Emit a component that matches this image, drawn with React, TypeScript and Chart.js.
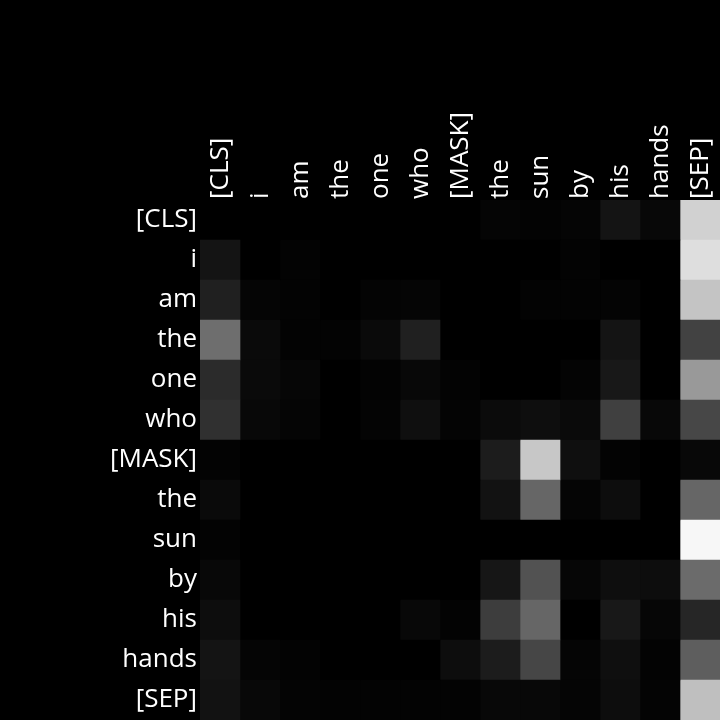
import React, { useEffect, useRef } from "react";
import { Chart, registerables } from "chart.js";

Chart.register(...registerables);

const tokens = ["[CLS]", "i", "am", "the", "one", "who", "[MASK]", "the", "sun", "by", "his", "hands", "[SEP]"];

// attention weights, one array per query token (row), columns follow `tokens`
const rowCLS = [0, 0, 0, 0, 0, 0, 0, 0.02, 0.01, 0.02, 0.08, 0.03, 0.82];
const rowI = [0.08, 0, 0.01, 0, 0, 0, 0, 0, 0, 0.01, 0, 0, 0.87];
const rowAm = [0.125, 0.02, 0.01, 0, 0.015, 0.02, 0, 0, 0.01, 0.01, 0.015, 0, 0.77];
const rowThe1 = [0.43, 0.04, 0.01, 0.01, 0.04, 0.125, 0, 0, 0, 0, 0.08, 0, 0.26];
const rowOne = [0.17, 0.04, 0.025, 0, 0.01, 0.03, 0.01, 0, 0, 0.015, 0.095, 0, 0.6];
const rowWho = [0.19, 0.03, 0.02, 0, 0.015, 0.06, 0.015, 0.045, 0.055, 0.04, 0.25, 0.03, 0.28];
const rowMask = [0.01, 0, 0, 0, 0, 0, 0, 0.11, 0.78, 0.06, 0.01, 0, 0.03];
const rowThe2 = [0.04, 0, 0, 0, 0, 0, 0, 0.07, 0.4, 0.02, 0.05, 0, 0.4];
const rowSun = [0.01, 0, 0, 0, 0, 0, 0, 0, 0, 0, 0, 0, 0.97];
const rowBy = [0.03, 0, 0, 0, 0, 0, 0, 0.085, 0.32, 0.025, 0.055, 0.05, 0.42];
const rowHis = [0.05, 0, 0, 0, 0, 0.03, 0.01, 0.24, 0.4, 0, 0.095, 0.025, 0.15];
const rowHands = [0.08, 0.02, 0.01, 0, 0, 0, 0.05, 0.11, 0.275, 0.02, 0.06, 0.01, 0.37];
const rowSEP = [0.07, 0.03, 0.015, 0.01, 0.01, 0.01, 0.01, 0.03, 0.03, 0.02, 0.05, 0.015, 0.75];

const weights = [rowCLS, rowI, rowAm, rowThe1, rowOne, rowWho, rowMask, rowThe2, rowSun, rowBy, rowHis, rowHands, rowSEP];

const gray = (v: number) => {
  const g = Math.round(Math.max(0, Math.min(1, v)) * 255);
  return `rgb(${g},${g},${g})`;
};

const FONT = { family: "'Open Sans', 'Noto Sans', sans-serif", size: 26 };

export default function App() {
  const ref = useRef<HTMLCanvasElement | null>(null);

  useEffect(() => {
    document.body.style.margin = "0";
    document.body.style.background = "#000";
    if (!ref.current) return;
    const rowLabels = tokens.map((t, i) => `${i}:${t}`);
    const datasets = tokens.map((_, j) => ({
      label: tokens[j],
      data: tokens.map(() => 1),
      backgroundColor: weights.map((row) => gray(row[j])),
      borderWidth: 0,
      barPercentage: 1,
      categoryPercentage: 1,
    }));
    const chart = new Chart(ref.current, {
      type: "bar",
      data: { labels: rowLabels, datasets },
      options: {
        indexAxis: "y",
        animation: false,
        responsive: false,
        maintainAspectRatio: false,
        layout: { padding: 0 },
        plugins: { legend: { display: false }, tooltip: { enabled: false } },
        scales: {
          x: {
            type: "linear",
            position: "top",
            stacked: true,
            min: 0,
            max: tokens.length,
            grid: { display: false, drawTicks: false },
            border: { display: false },
            afterBuildTicks: (axis: any) => {
              axis.ticks = tokens.map((_, j) => ({ value: j + 0.5 }));
            },
            afterFit: (axis: any) => {
              axis.height = 200;
              axis.paddingLeft = 0;
              axis.paddingRight = 0;
            },
            ticks: {
              color: "#ffffff",
              font: FONT,
              padding: 1,
              labelOffset: 32,
              autoSkip: false,
              minRotation: 90,
              maxRotation: 90,
              callback: (v: any) => tokens[Math.round(Number(v) - 0.5)] ?? "",
            },
          },
          y: {
            type: "category",
            stacked: true,
            grid: { display: false, drawTicks: false },
            border: { display: false },
            afterFit: (axis: any) => {
              axis.width = 200;
              axis.paddingTop = 0;
              axis.paddingBottom = 0;
            },
            ticks: {
              color: "#ffffff",
              font: FONT,
              padding: 3,
              autoSkip: false,
              callback: (_v: any, i: number) => tokens[i],
            },
          },
        },
      },
    });
    return () => chart.destroy();
  }, []);

  return (
    <div style={{ position: "absolute", left: 0, top: 0, width: 720, height: 720, background: "#000" }}>
      <canvas ref={ref} width={720} height={720} style={{ display: "block", width: 720, height: 720 }} />
    </div>
  );
}
